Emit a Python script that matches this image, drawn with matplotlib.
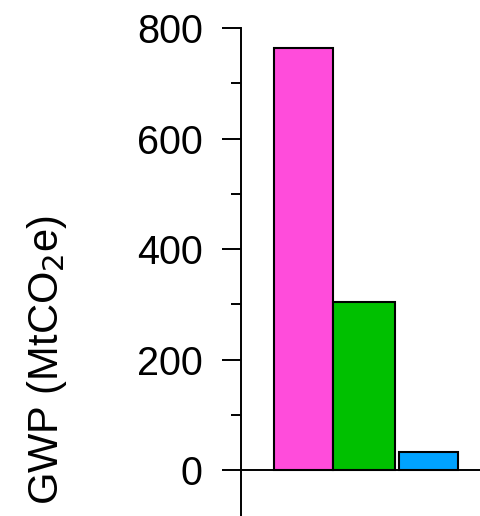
import matplotlib.pyplot as plt
from matplotlib.ticker import MultipleLocator

plt.rcParams['font.family'] = ['Liberation Sans', 'DejaVu Sans']

# Data
positions = [1.04, 2.05, 3.12]
widths = [0.98, 1.02, 0.98]
values = [764, 304, 33]
colors = ['#FF4CDB', '#00C000', '#00A2FF']
yticks = [0, 200, 400, 600, 800]

fig = plt.figure(figsize=(4.81, 5.16), dpi=100)
ax = fig.add_axes([241 / 481, 0, 240 / 481, 488 / 516])

ax.bar(positions, values, width=widths, color=colors, edgecolor='black', linewidth=1.5, zorder=2)
ax.axhline(0, color='black', linewidth=1.4, zorder=3)

ax.set_xlim(0, 4.0)
ax.set_ylim(-83, 800)
ax.set_yticks(yticks)
ax.yaxis.set_minor_locator(MultipleLocator(100))
ax.tick_params(axis='y', which='major', length=13.5, width=1.4, pad=14, labelsize=28.5)
ax.tick_params(axis='y', which='minor', length=7, width=1.4)
ax.set_xticks([])

for s in ['top', 'right', 'bottom']:
    ax.spines[s].set_visible(False)
ax.spines['left'].set_linewidth(1.4)
ax.spines['left'].set_bounds(-83, 800)

fig.text(47 / 481, 1 - 360 / 516, 'GWP (MtCO$_2$e)', rotation=90, fontsize=30,
         ha='center', va='center')

fig.savefig('out.png', dpi=100)
